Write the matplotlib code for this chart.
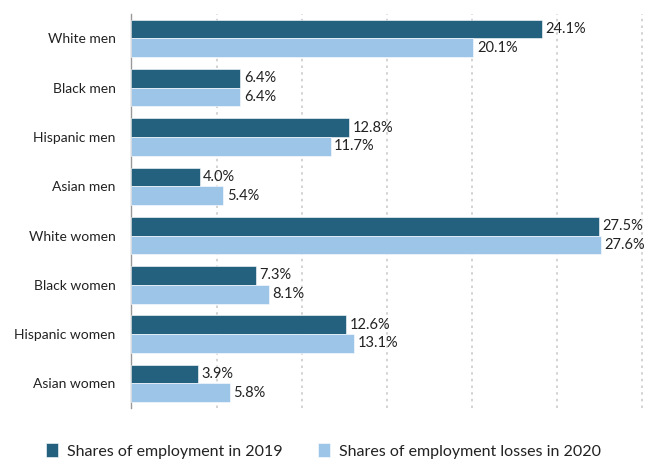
import numpy as np
import matplotlib.pyplot as plt
import matplotlib.transforms as mtransforms

plt.rcParams['font.family'] = ['Lato', 'DejaVu Sans']

groups = ["White men", "Black men", "Hispanic men", "Asian men",
          "White women", "Black women", "Hispanic women", "Asian women"]
emp_2019 = [24.1, 6.4, 12.8, 4.0, 27.5, 7.3, 12.6, 3.9]
loss_2020 = [20.1, 6.4, 11.7, 5.4, 27.6, 8.1, 13.1, 5.8]
grid_ticks = [5, 10, 15, 20, 25, 30]

dark = "#24617f"
light = "#9dc5e8"
txt = "#222222"

fig = plt.figure(figsize=(6.47, 4.59), dpi=100)
ax = fig.add_axes([0.2032, 0.111, 0.7968, 0.859])

y = np.arange(len(groups))
h = 0.38
ax.barh(y - h / 2, emp_2019, height=h, color=dark, edgecolor="white", linewidth=0.4,
        label="Shares of employment in 2019", zorder=3)
ax.barh(y + h / 2, loss_2020, height=h, color=light, edgecolor="white", linewidth=0.4,
        label="Shares of employment losses in 2020", zorder=3)

for i in range(len(groups)):
    ax.text(emp_2019[i] + 0.2, y[i] - h / 2, f"{emp_2019[i]:.1f}%", va="center",
            ha="left", fontsize=10.5, color=txt)
    ax.text(loss_2020[i] + 0.2, y[i] + h / 2, f"{loss_2020[i]:.1f}%", va="center",
            ha="left", fontsize=10.5, color=txt)

ax.set_xlim(0, 30.3)
ax.set_ylim(len(groups) - 0.5, -0.5)
ax.set_yticks(y)
ax.set_yticklabels(groups, fontsize=10, color=txt)
shift = mtransforms.ScaledTranslation(0, 4.5 / 100, fig.dpi_scale_trans)
for lab in ax.get_yticklabels():
    lab.set_transform(lab.get_transform() + shift)
ax.set_xticks(grid_ticks)
ax.tick_params(axis="x", length=0, labelbottom=False)
ax.tick_params(axis="y", length=0, pad=11.5)
ax.grid(axis="x", color="#cccccc", linestyle=(0, (1.5, 2.5)), linewidth=1.2, zorder=0)
for s in ["top", "right", "bottom"]:
    ax.spines[s].set_visible(False)
ax.spines["left"].set_color("#999999")
ax.spines["left"].set_linewidth(1.0)

fig.legend(loc="center", bbox_to_anchor=(0.5, 8 / 459), ncol=2, frameon=False,
           fontsize=11.5, handlelength=0.75, handleheight=1.0, columnspacing=2.2,
           handletextpad=0.55, labelcolor=txt)

fig.savefig("out.png", dpi=100)
